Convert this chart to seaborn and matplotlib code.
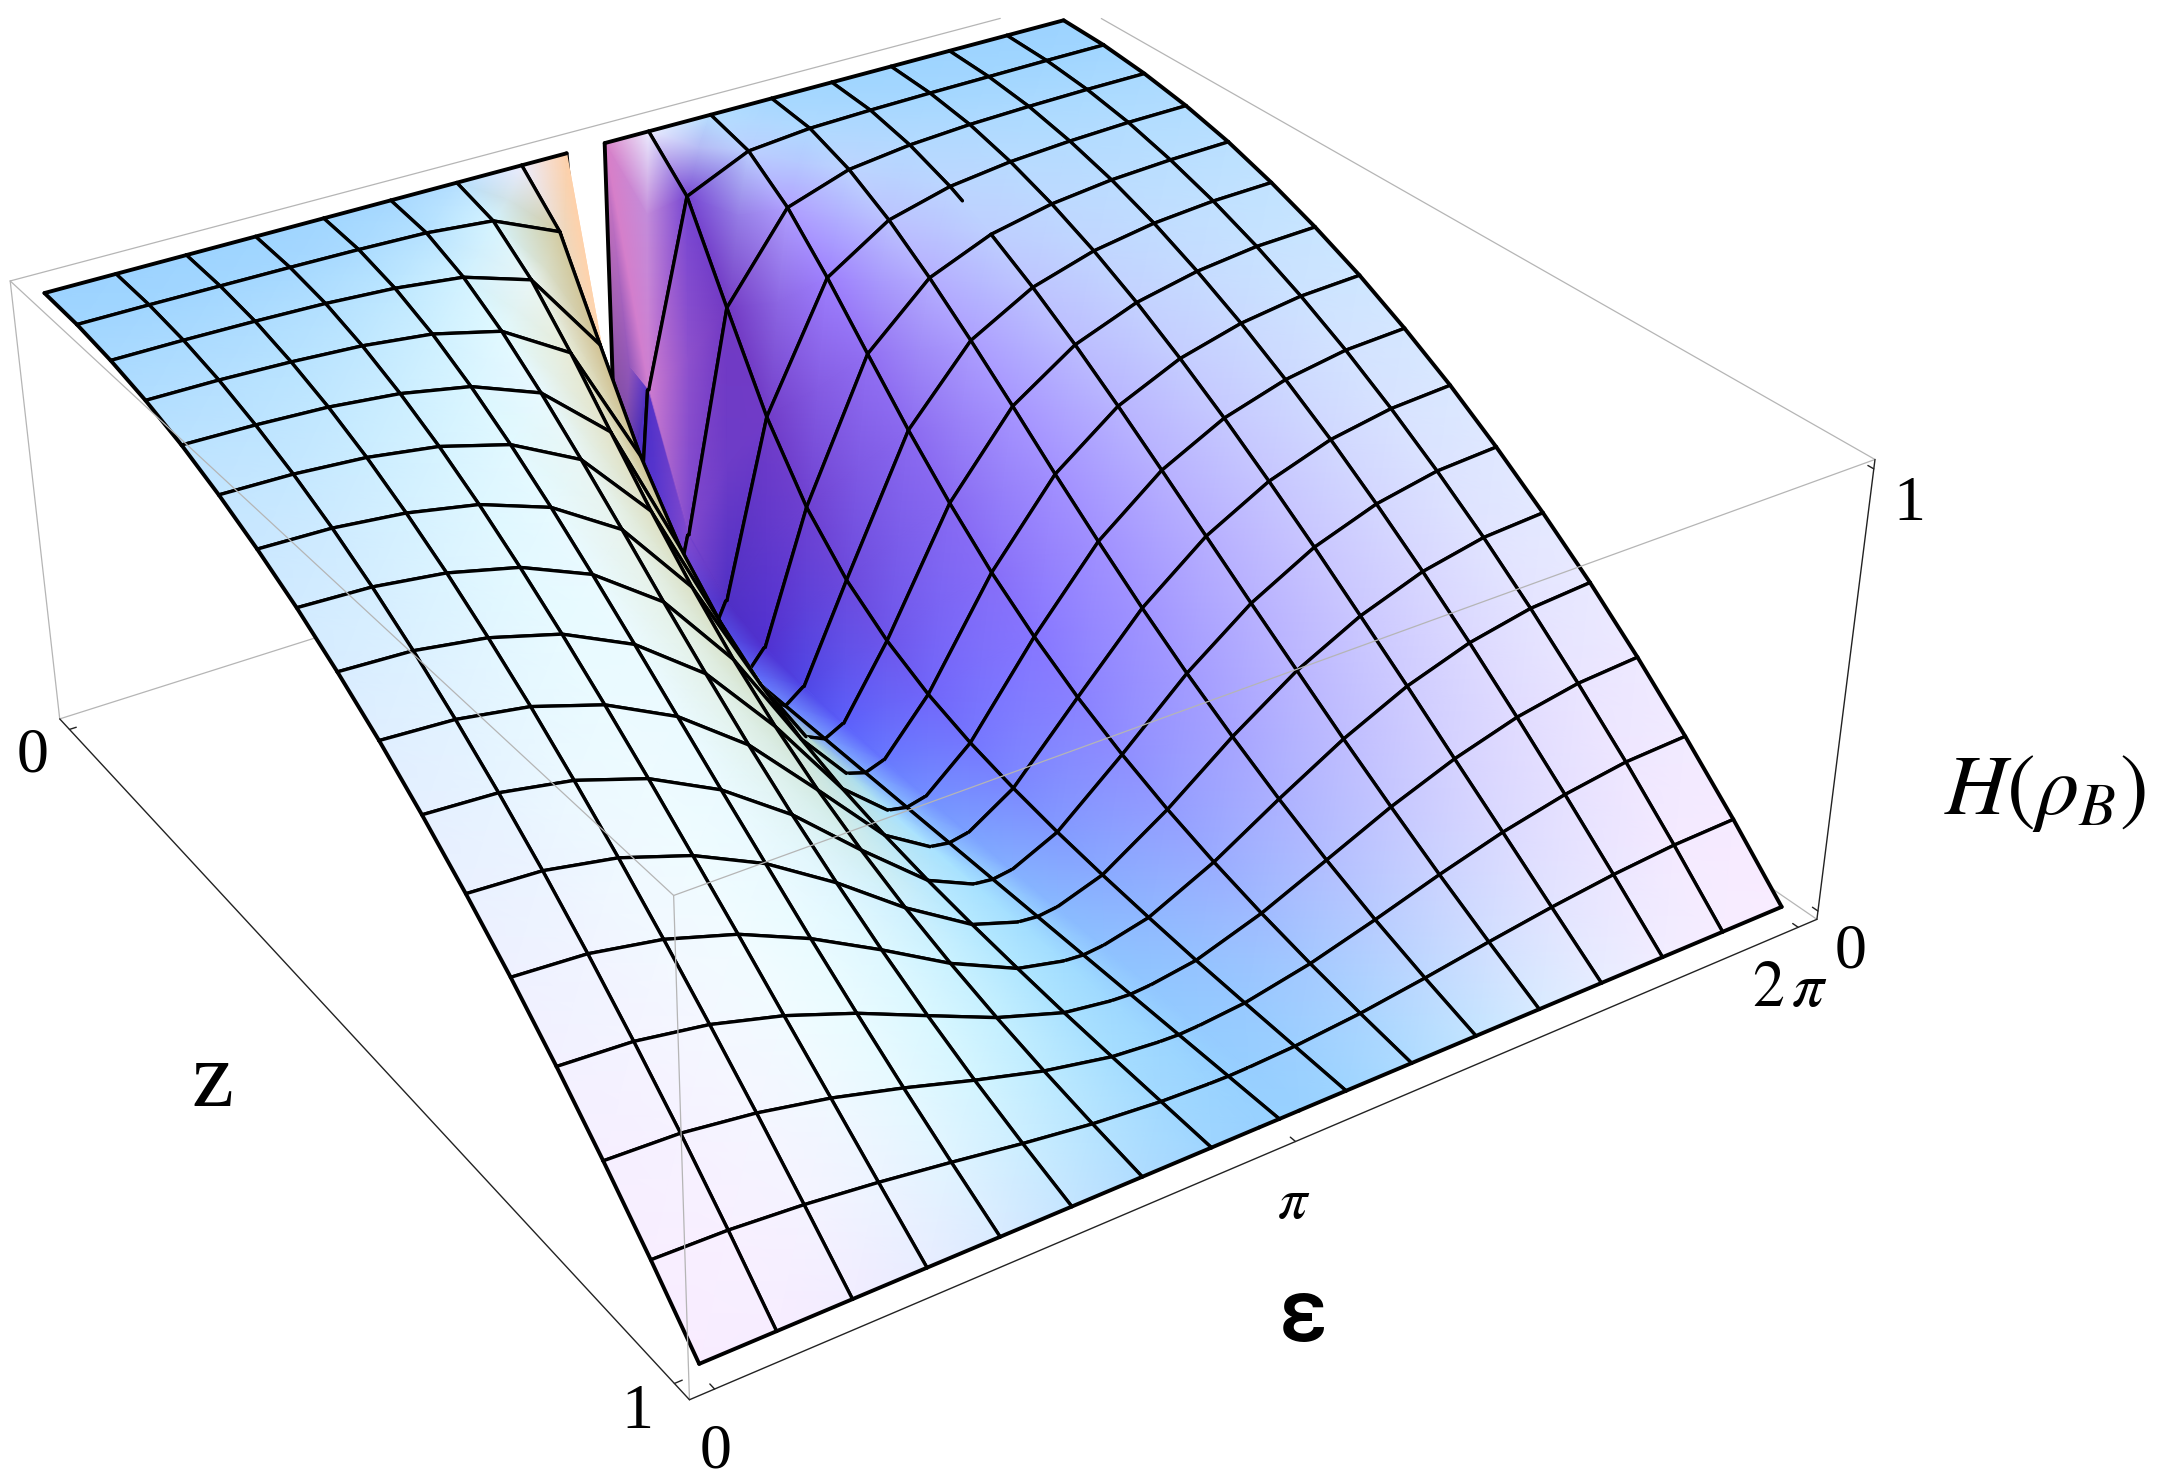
"""Surface H(rho_B) over (epsilon, z), drawn back to front through a fitted box camera."""

import matplotlib
matplotlib.use("Agg")
import matplotlib.pyplot as plt
import numpy as np
import seaborn as sns

# eps steps in units of 2 pi / 16, left of the slit at pi
eps_left = [0, 1, 2, 3, 4, 5, 6, 7, 7.7, 8]
z_steps = list(range(17))

# H, row = z step, column = eps_left
H_left = [
    [1.000, 1.000, 1.000, 1.000, 1.000, 1.000, 1.000, 1.000, 1.00, 0.00],
    [0.996, 0.996, 0.995, 0.994, 0.992, 0.988, 0.974, 0.907, 0.47, 0.00],
    [0.984, 0.984, 0.982, 0.978, 0.969, 0.951, 0.902, 0.706, 0.18, 0.00],
    [0.965, 0.964, 0.959, 0.950, 0.932, 0.894, 0.800, 0.511, 0.09, 0.00],
    [0.938, 0.935, 0.928, 0.912, 0.882, 0.822, 0.686, 0.363, 0.05, 0.00],
    [0.902, 0.899, 0.888, 0.865, 0.822, 0.741, 0.574, 0.260, 0.032, 0.00],
    [0.859, 0.855, 0.839, 0.809, 0.754, 0.655, 0.472, 0.189, 0.022, 0.00],
    [0.809, 0.803, 0.783, 0.745, 0.679, 0.566, 0.381, 0.138, 0.015, 0.00],
    [0.750, 0.743, 0.719, 0.675, 0.600, 0.481, 0.305, 0.102, 0.010, 0.00],
    [0.684, 0.675, 0.649, 0.599, 0.519, 0.400, 0.240, 0.076, 0.008, 0.00],
    [0.609, 0.600, 0.571, 0.519, 0.438, 0.325, 0.186, 0.056, 0.006, 0.00],
    [0.527, 0.518, 0.488, 0.435, 0.359, 0.257, 0.140, 0.041, 0.005, 0.00],
    [0.438, 0.428, 0.399, 0.350, 0.280, 0.194, 0.102, 0.029, 0.004, 0.00],
    [0.340, 0.331, 0.305, 0.262, 0.205, 0.137, 0.070, 0.019, 0.003, 0.00],
    [0.234, 0.228, 0.207, 0.175, 0.133, 0.086, 0.043, 0.012, 0.002, 0.00],
    [0.121, 0.117, 0.105, 0.087, 0.065, 0.041, 0.020, 0.006, 0.001, 0.00],
    [0.000, 0.000, 0.000, 0.000, 0.000, 0.000, 0.000, 0.000, 0.00, 0.00],
]

# box corners in pixels: (eps end, z end, H end) -> (x, y)
box_corners_px = {
    (0, 1, 0): (689, 1400),
    (1, 1, 0): (1817, 919),
    (0, 0, 0): (60, 719),
    (0, 0, 1): (10, 281),
    (0, 1, 1): (674, 895),
    (1, 1, 1): (1875, 460),
    (1, 0, 1): (1069, 0),
}
PAD = 0.02
BOX_H = 0.4

# Mathematica's default lights, directions in view space
AMBIENT = np.array([0.312, 0.188, 0.4])
LIGHTS = [
    (np.array([0.8, 0.0, 0.0]), np.array([2.0, 0.0, 2.0])),
    (np.array([0.0, 0.8, 0.0]), np.array([2.0, 2.0, 2.0])),
    (np.array([0.0, 0.0, 0.8]), np.array([0.0, 2.0, 2.0])),
]
# how much of the wall slope the slit columns get near z = 0
SLIT_TOP_SLOPE = [0.35, 0.35, 0.6, 0.9]
FOLD_SLOPE = 0.4

GRID_LW = 2.4
EDGE_LW = 2.8
BOX_GREY = "#b5b5b5"
AXIS_DARK = "#222222"


def fit_camera(corners):
    rows = []
    for (u, v, w), (x, y) in corners.items():
        X = [u, v, w * BOX_H, 1]
        rows.append(X + [0, 0, 0, 0] + [-x * c for c in X])
        rows.append([0, 0, 0, 0] + X + [-y * c for c in X])
    P = np.linalg.svd(np.array(rows, dtype=float))[2][-1].reshape(3, 4)
    if P[2] @ np.array([0.5, 0.5, 0.5 * BOX_H, 1]) < 0:
        P = -P
    return P


def view_axes(P):
    flip = np.flipud(np.eye(3))
    q, r = np.linalg.qr((flip @ P[:3, :3]).T)
    K = flip @ r.T @ flip
    R = flip @ q.T
    R = np.diag(np.sign(np.diag(K))) @ R
    # rows: image right, image up, towards viewer
    return np.vstack([R[0], -R[1], -R[2]])


def project(P, u, v, w):
    pts = np.stack([u, v, w * BOX_H, np.ones_like(u)], axis=-1) @ P.T
    return pts[..., 0] / pts[..., 2], pts[..., 1] / pts[..., 2]


def shade(U, V, W, R):
    Z = W * BOX_H
    dx = np.gradient(Z, U[0], axis=1)
    dy = np.gradient(Z, V[:, 0], axis=0)
    # the slit columns are too close together for a local slope, take the chord
    dx[:, 8] = (Z[:, 9] - Z[:, 7]) / (U[0, 9] - U[0, 7])
    dx[:, [10, 11]] = ((Z[:, 12] - Z[:, 9]) / (U[0, 12] - U[0, 9]))[:, None]
    # the fold at pi leans with the visible wall while the wall is still deep
    dx[:10, 9] = FOLD_SLOPE * dx[:10, 10]
    top = np.array(SLIT_TOP_SLOPE)
    for col in (8, 10, 11):
        dx[:len(top), col] *= top
    n = np.stack([-dx, -dy, np.ones_like(Z)], axis=-1)
    n /= np.linalg.norm(n, axis=-1, keepdims=True)
    n = n @ R.T
    rgb = np.broadcast_to(AMBIENT, n.shape).copy()
    for colour, direction in LIGHTS:
        d = direction / np.linalg.norm(direction)
        rgb += np.clip(n @ d, 0, 1)[..., None] * colour
    return np.clip(rgb, 0, 1)


sns.set_theme(style="white")
plt.rcParams["mathtext.fontset"] = "stix"
plt.rcParams["font.family"] = ["Liberation Serif", "DejaVu Sans"]

# right half mirrors the left one, the slit wall drops at 8.28 -> 8.3
left = np.array(H_left)
H = np.hstack([left, left[:, 8:9], left[:, 8:9], left[:, 7::-1]])
H[0, 10] = 0.0
eps_steps = np.array(eps_left + [8.28, 8.3] + [16 - e for e in eps_left[7::-1]])
grid_cols = [c for c, e in enumerate(eps_steps) if float(e).is_integer()]
# one grid line of eps step 12 breaks off between z steps 3 and 4
broken_col = list(eps_steps).index(12)
broken_row = 3

u = (eps_steps / 16 + PAD) / (1 + 2 * PAD)
v = (np.array(z_steps) / 16 + PAD) / (1 + 2 * PAD)
U, V = np.meshgrid(u, v)
W = (H + PAD) / (1 + 2 * PAD)

P = fit_camera(box_corners_px)
X, Y = project(P, U, V, W)
RGB = shade(U, V, W, view_axes(P))

fig = plt.figure(figsize=(21.68, 14.82), dpi=100)
ax = fig.add_axes([0, 0, 1, 1])
ax.set_xlim(0, 2168)
ax.set_ylim(1482, 0)
ax.axis("off")


def box_point(c):
    return project(P, *[np.array(float(t)) for t in c])


def box_line(a, b, color, lw, zorder, t0=0.0, t1=1.0):
    (xa, ya), (xb, yb) = box_point(a), box_point(b)
    ax.plot([xa + t0 * (xb - xa), xa + t1 * (xb - xa)],
            [ya + t0 * (yb - ya), ya + t1 * (yb - ya)],
            color=color, lw=lw, zorder=zorder)


# back edges of the box sit behind the surface
box_line((0, 0, 1), (1, 0, 1), BOX_GREY, 0.9, 1, 0, 0.935)
box_line((1, 1, 1), (1, 0, 1), BOX_GREY, 0.9, 1, 0, 0.96)
box_line((0, 0, 0), (0, 0, 1), BOX_GREY, 0.9, 1)
box_line((0, 0, 0), (1, 0, 0), BOX_GREY, 0.9, 1)
box_line((1, 1, 0), (1, 0, 0), BOX_GREY, 0.9, 1)

# surface, cell by cell from far to near so walls hide what is behind them
zo = 10
n_rows, n_cols = H.shape
for r in range(n_rows - 1):
    for c in range(n_cols - 2, -1, -1):
        ax.pcolormesh(X[r:r + 2, c:c + 2], Y[r:r + 2, c:c + 2], RGB[r:r + 2, c:c + 2],
                      shading="gouraud", zorder=zo)
        zo += 1
        for cc in (c, c + 1):
            if cc in grid_cols:
                lw = EDGE_LW if cc in (0, n_cols - 1) else GRID_LW
                xs, ys = X[r:r + 2, cc], Y[r:r + 2, cc]
                if cc == broken_col and r == broken_row:
                    xs = [xs[0], xs[0] + 0.3 * (xs[1] - xs[0])]
                    ys = [ys[0], ys[0] + 0.3 * (ys[1] - ys[0])]
                ax.plot(xs, ys, color="black", lw=lw, solid_capstyle="round", zorder=zo)
        for rr in (r, r + 1):
            lw = EDGE_LW if rr in (0, n_rows - 1) else GRID_LW
            ax.plot(X[rr, c:c + 2], Y[rr, c:c + 2], color="black", lw=lw,
                    solid_capstyle="round", zorder=zo)
        zo += 1

# front edges of the box, on top of the surface
box_line((0, 1, 0), (0, 1, 1), BOX_GREY, 0.9, zo)
box_line((0, 0, 1), (0, 1, 1), BOX_GREY, 0.9, zo)
box_line((0, 1, 1), (1, 1, 1), BOX_GREY, 0.9, zo)
box_line((0, 0, 0), (0, 1, 0), AXIS_DARK, 1.0, zo)
box_line((0, 1, 0), (1, 1, 0), AXIS_DARK, 1.0, zo)
box_line((1, 1, 0), (1, 1, 1), AXIS_DARK, 1.0, zo)

# small ticks, pointing into the box
TICK = 0.006
for e in (0.0, 0.5, 1.0):
    ue = (e + PAD) / (1 + 2 * PAD)
    box_line((ue, 1, 0), (ue, 1 - TICK, 0), AXIS_DARK, 1.0, zo)
for zv in (0.0, 1.0):
    vz = (zv + PAD) / (1 + 2 * PAD)
    box_line((0, vz, 0), (TICK, vz, 0), AXIS_DARK, 1.0, zo)
for hv in (0.0, 1.0):
    wh = (hv + PAD) / (1 + 2 * PAD)
    box_line((1, 1, wh), (1, 1 - TICK, wh), AXIS_DARK, 1.0, zo)

zo += 1
labels = [
    ("0", 33, 756, 46, {}),
    ("1", 637, 1413, 46, {}),
    ("0", 716, 1452, 46, {}),
    (r"$\pi$", 1294, 1204, 42, {}),
    (r"$2\,\pi$", 1790, 991, 46, {}),
    ("0", 1851, 952, 46, {}),
    ("1", 1909, 505, 46, {}),
    ("z", 212, 1084, 68, {}),
    (r"$H(\rho_B)$", 2045, 794, 62, {}),
    ("ε", 1303, 1316, 64, {"family": "Roboto", "fontweight": "medium"}),
]
for text, x, y, size, extra in labels:
    ax.text(x, y, text, fontsize=size, ha="center", va="center", color="black",
            zorder=zo, **extra)

fig.savefig("out.png", dpi=100)
